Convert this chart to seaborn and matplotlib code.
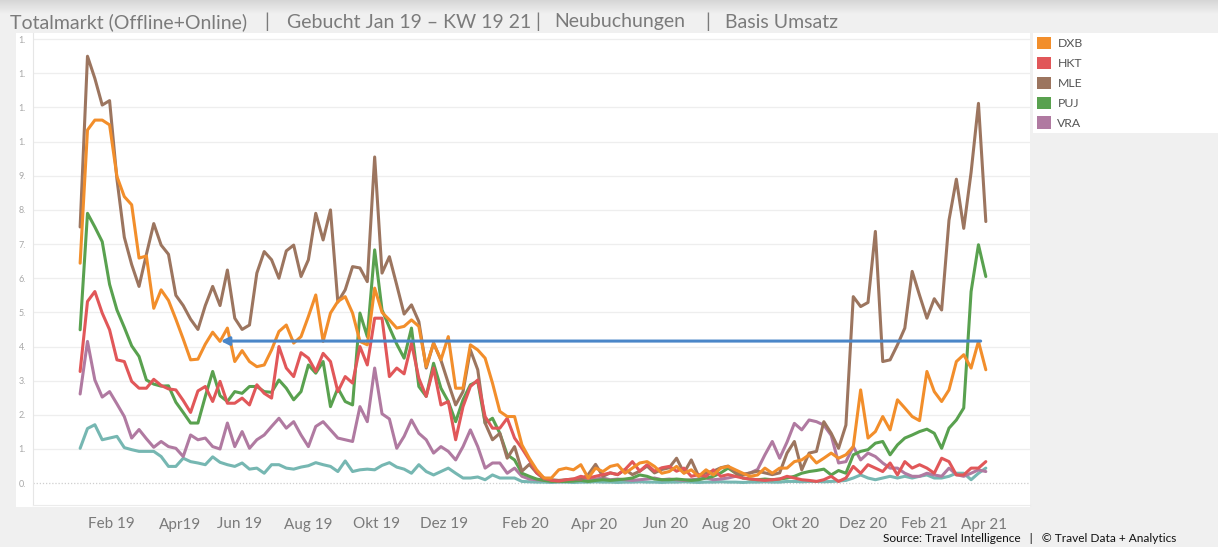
import numpy as np
import pandas as pd
import matplotlib
matplotlib.use('Agg')
import matplotlib.pyplot as plt
from matplotlib.patches import Rectangle, Patch
from matplotlib.colors import LinearSegmentedColormap
import seaborn as sns

# Wochenwerte, Index 0 = KW 1 2019 ... Index 123 = KW 19 2021
dxb = [6.44, 10.34, 10.63, 10.63, 10.49, 8.98, 8.39, 8.15, 6.59, 6.65,
       5.12, 5.66, 5.35, 4.8, 4.22, 3.61, 3.63, 4.07, 4.42, 4.15,
       4.54, 3.56, 3.88, 3.56, 3.41, 3.46, 3.9, 4.44, 4.63, 4.1,
       4.29, 4.88, 5.51, 4.15, 4.98, 5.32, 5.46, 4.98, 4.15, 4.05,
       5.71, 5.0, 4.78, 4.54, 4.59, 4.78, 4.59, 3.41, 4.1, 3.61,
       4.29, 2.78, 2.78, 4.05, 3.9, 3.66, 2.93, 2.1, 1.95, 1.95,
       1.12, 0.73, 0.39, 0.15, 0.15, 0.39, 0.44, 0.39, 0.54, 0.15,
       0.44, 0.34, 0.49, 0.54, 0.29, 0.44, 0.59, 0.63, 0.49, 0.29,
       0.34, 0.49, 0.29, 0.39, 0.2, 0.39, 0.24, 0.44, 0.49, 0.39,
       0.29, 0.2, 0.24, 0.44, 0.29, 0.44, 0.44, 0.63, 0.68, 0.83,
       0.59, 0.73, 0.88, 0.73, 0.83, 1.07, 2.73, 1.32, 1.51, 1.95,
       1.56, 2.44, 2.2, 1.95, 1.83, 3.27, 2.68, 2.39, 2.73, 3.56,
       3.76, 3.37, 4.15, 3.32]

hkt = [3.27, 5.32, 5.61, 4.98, 4.49, 3.61, 3.56, 2.98, 2.78, 2.78,
       3.04, 2.86, 2.76, 2.73, 2.42, 2.07, 2.7, 2.83, 2.39, 2.98,
       2.34, 2.34, 2.49, 2.29, 2.88, 2.63, 2.49, 4.0, 3.37, 3.12,
       3.82, 3.66, 3.27, 3.8, 3.56, 2.68, 3.12, 2.93, 4.0, 3.46,
       4.83, 4.83, 3.12, 3.37, 3.2, 4.1, 3.07, 2.54, 3.37, 2.29,
       2.39, 1.27, 2.24, 2.83, 3.02, 1.95, 1.61, 1.61, 1.9, 1.32,
       1.02, 0.68, 0.3, 0.15, 0.08, 0.06, 0.1, 0.12, 0.2, 0.15,
       0.2, 0.25, 0.3, 0.25, 0.4, 0.63, 0.35, 0.54, 0.35, 0.45,
       0.49, 0.35, 0.44, 0.2, 0.25, 0.2, 0.39, 0.2, 0.25, 0.2,
       0.15, 0.12, 0.1, 0.08, 0.1, 0.12, 0.2, 0.15, 0.1, 0.08,
       0.05, 0.1, 0.2, 0.05, 0.15, 0.49, 0.29, 0.54, 0.44, 0.34,
       0.59, 0.24, 0.63, 0.44, 0.54, 0.44, 0.29, 0.73, 0.63, 0.24,
       0.24, 0.44, 0.44, 0.63]

mle = [7.5, 12.5, 11.85, 11.07, 11.2, 8.9, 7.2, 6.4, 5.76, 6.7,
       7.6, 6.97, 6.7, 5.5, 5.2, 4.8, 4.5, 5.2, 5.76, 5.2,
       6.24, 4.83, 4.5, 4.63, 6.15, 6.78, 6.54, 6.0, 6.8, 6.97,
       6.05, 6.54, 7.9, 7.12, 8.0, 5.3, 5.66, 6.34, 6.3, 5.9,
       9.55, 6.15, 6.63, 5.8, 4.95, 5.22, 4.73, 3.37, 4.1, 3.6,
       2.93, 2.29, 2.68, 3.9, 3.32, 1.76, 1.27, 1.46, 0.73, 1.07,
       0.35, 0.55, 0.3, 0.12, 0.1, 0.08, 0.1, 0.12, 0.1, 0.25,
       0.55, 0.2, 0.3, 0.25, 0.4, 0.25, 0.35, 0.5, 0.3, 0.4,
       0.45, 0.73, 0.3, 0.68, 0.2, 0.3, 0.35, 0.45, 0.5, 0.3,
       0.25, 0.3, 0.35, 0.3, 0.25, 0.3, 0.88, 1.22, 0.39, 0.88,
       0.93, 1.8, 1.46, 1.02, 1.7, 5.46, 5.17, 5.29, 7.37, 3.56,
       3.61, 4.05, 4.54, 6.2, 5.5, 4.83, 5.4, 5.07, 7.7, 8.9,
       7.46, 9.1, 11.12, 7.66]

puj = [4.49, 7.9, 7.5, 7.07, 5.82, 5.07, 4.56, 4.02, 3.71, 3.02,
       2.9, 2.84, 2.85, 2.37, 2.07, 1.76, 1.76, 2.54, 3.27, 2.56,
       2.39, 2.68, 2.63, 2.83, 2.83, 2.68, 2.66, 3.02, 2.78, 2.44,
       2.68, 3.46, 3.22, 3.56, 2.24, 2.78, 2.39, 2.29, 4.98, 4.29,
       6.83, 5.07, 4.56, 4.07, 3.66, 4.54, 2.83, 2.54, 3.51, 2.78,
       2.39, 1.8, 2.44, 2.88, 2.98, 1.76, 1.9, 1.46, 0.83, 0.68,
       0.29, 0.2, 0.12, 0.08, 0.05, 0.05, 0.05, 0.06, 0.08, 0.05,
       0.08, 0.1, 0.08, 0.1, 0.12, 0.15, 0.24, 0.2, 0.12, 0.1,
       0.1, 0.12, 0.1, 0.08, 0.1, 0.15, 0.2, 0.3, 0.44, 0.3,
       0.15, 0.12, 0.1, 0.12, 0.1, 0.12, 0.15, 0.2, 0.29, 0.34,
       0.37, 0.41, 0.24, 0.37, 0.29, 0.83, 0.93, 0.98, 1.17, 1.22,
       0.83, 1.12, 1.32, 1.41, 1.51, 1.58, 1.46, 1.02, 1.61, 1.85,
       2.2, 5.61, 6.98, 6.05]

vra = [2.61, 4.15, 3.02, 2.52, 2.68, 2.32, 1.95, 1.32, 1.57, 1.3,
       1.05, 1.22, 1.07, 1.02, 0.78, 1.41, 1.27, 1.32, 1.07, 1.0,
       1.76, 1.07, 1.51, 1.02, 1.27, 1.41, 1.66, 1.9, 1.61, 1.8,
       1.41, 1.07, 1.66, 1.8, 1.56, 1.32, 1.27, 1.22, 2.24, 1.8,
       3.37, 2.03, 1.88, 1.02, 1.37, 1.85, 1.46, 1.27, 0.88, 1.07,
       0.93, 0.68, 1.07, 1.56, 1.07, 0.44, 0.59, 0.59, 0.29, 0.44,
       0.2, 0.12, 0.1, 0.08, 0.06, 0.05, 0.06, 0.08, 0.1, 0.08,
       0.12, 0.15, 0.1, 0.12, 0.1, 0.08, 0.1, 0.12, 0.15, 0.1,
       0.12, 0.1, 0.08, 0.1, 0.12, 0.15, 0.1, 0.12, 0.15, 0.2,
       0.25, 0.3, 0.4, 0.83, 1.22, 0.73, 1.2, 1.75, 1.56, 1.85,
       1.8, 1.7, 1.4, 0.59, 0.63, 1.07, 0.68, 0.88, 0.78, 0.59,
       0.44, 0.44, 0.29, 0.2, 0.2, 0.29, 0.24, 0.2, 0.44, 0.25,
       0.2, 0.29, 0.39, 0.34]

# sechste Destination, in der Legende abgeschnitten
sonstige = [1.02, 1.6, 1.71, 1.27, 1.32, 1.37, 1.04, 0.98, 0.93, 0.93,
            0.93, 0.78, 0.49, 0.49, 0.73, 0.63, 0.59, 0.54, 0.77, 0.61,
            0.54, 0.49, 0.59, 0.41, 0.44, 0.29, 0.54, 0.54, 0.44, 0.41,
            0.47, 0.51, 0.6, 0.54, 0.49, 0.34, 0.65, 0.34, 0.39, 0.41,
            0.39, 0.52, 0.6, 0.47, 0.41, 0.29, 0.54, 0.34, 0.24, 0.34,
            0.44, 0.29, 0.15, 0.15, 0.18, 0.1, 0.24, 0.15, 0.15, 0.15,
            0.05, 0.04, 0.03, 0.03, 0.02, 0.03, 0.03, 0.02, 0.03, 0.03,
            0.04, 0.03, 0.03, 0.02, 0.03, 0.03, 0.04, 0.03, 0.03, 0.02,
            0.03, 0.03, 0.04, 0.03, 0.02, 0.03, 0.03, 0.04, 0.03, 0.03,
            0.02, 0.03, 0.03, 0.04, 0.03, 0.03, 0.05, 0.05, 0.04, 0.05,
            0.05, 0.04, 0.05, 0.06, 0.08, 0.15, 0.24, 0.15, 0.1, 0.15,
            0.2, 0.15, 0.2, 0.15, 0.2, 0.24, 0.15, 0.15, 0.2, 0.29,
            0.29, 0.1, 0.29, 0.44]

legend_names = ['DXB', 'HKT', 'MLE', 'PUJ', 'VRA']
month_labels = ['Feb 19', 'Apr19', 'Jun 19', 'Aug 19', 'Okt 19', 'Dez 19', 'Feb 20',
                'Apr 20', 'Jun 20', 'Aug 20', 'Okt 20', 'Dez 20', 'Feb 21', 'Apr 21']
month_ticks = [4.2, 13.6, 21.7, 31.0, 40.2, 49.4, 60.5, 69.8, 79.5, 87.8, 97.1, 106.3, 114.7, 122.7]
y_labels = ['0.', '1.', '2.', '3.', '4.', '5.', '6.', '7.', '8.', '9.', '1.', '1.', '1.', '1.']

# Referenzlinie (Pfeil) auf Niveau Jun 19
ref_level = 4.16
ref_from = 122.3
ref_to = 19.1

colors = {'DXB': '#f28e2b', 'HKT': '#e15759', 'MLE': '#9c755f',
          'PUJ': '#59a14f', 'VRA': '#b07aa1', 'Sonstige': '#76b7b2'}

frames = []
for name, vals in [('Sonstige', sonstige), ('VRA', vra), ('PUJ', puj),
                   ('MLE', mle), ('HKT', hkt), ('DXB', dxb)]:
    frames.append(pd.DataFrame({'woche': np.arange(len(vals)), 'wert': vals, 'ziel': name}))
df = pd.concat(frames, ignore_index=True)

sns.set_style('white')
plt.rcParams['font.family'] = ['Lato', 'DejaVu Sans']

W, H = 1218, 547
fig = plt.figure(figsize=(W / 100, H / 100), dpi=100, facecolor='#f0f0f0')

# grauer Verlauf am oberen Rand
ax_top = fig.add_axes([0, 1 - 14 / H, 1, 14 / H])
grad = np.linspace(0, 1, 40).reshape(-1, 1)
ax_top.imshow(grad, aspect='auto', cmap=LinearSegmentedColormap.from_list('g', ['#d6d6d6', '#f0f0f0']))
ax_top.axis('off')

# weisse Flaechen fuer Diagramm und Legende
fig.patches.append(Rectangle((16 / W, 1 - 507 / H), (1030 - 16) / W, (507 - 33) / H,
                             transform=fig.transFigure, facecolor='white', edgecolor='none', zorder=-5))
fig.patches.append(Rectangle((1033 / W, 1 - 133 / H), (W - 1033) / W, 100 / H,
                             transform=fig.transFigure, facecolor='white', edgecolor='none', zorder=-5))

ax = fig.add_axes([33 / W, 1 - 505 / H, (1030 - 33) / W, (505 - 33) / H])
ax.set_facecolor('white')

sns.lineplot(data=df, x='woche', y='wert', hue='ziel', palette=colors,
             hue_order=['Sonstige', 'VRA', 'PUJ', 'MLE', 'HKT', 'DXB'],
             linewidth=2.2, legend=False, ax=ax)

ax.annotate('', xy=(ref_to, ref_level), xytext=(ref_from, ref_level),
            arrowprops=dict(arrowstyle='-|>', color='#4a86c8', lw=2.2,
                            mutation_scale=12, shrinkA=0, shrinkB=0), zorder=10)

ax.set_xlim(-6.4, 129.0)
ax.set_ylim(-0.64, 13.18)
ax.set_yticks(range(14))
ax.set_yticklabels(y_labels)
ax.set_xticks(month_ticks)
ax.set_xticklabels(month_labels)
ax.set_xlabel('')
ax.set_ylabel('')

ax.yaxis.grid(True, color='#eeeeee', lw=0.9)
ax.xaxis.grid(False)
ax.set_axisbelow(True)
ax.get_ygridlines()[0].set_linestyle((0, (1, 1.5)))
ax.get_ygridlines()[0].set_color('#cfcfcf')

ax.tick_params(axis='y', length=0, pad=5, labelsize=6.5, labelcolor='#a8a8a8')
ax.tick_params(axis='x', length=0, pad=9, labelsize=11, labelcolor='#7a7a7a')
for s in ['top', 'right']:
    ax.spines[s].set_visible(False)
ax.spines['left'].set_color('#e6e6e6')
ax.spines['bottom'].set_color('#ececec')

# Titelzeile
title_parts = [(10, 'Totalmarkt (Offline+Online)'), (264, '|'), (287, 'Gebucht Jan 19 \u2013 KW 19 21'),
               (535, '|'), (554, 'Neubuchungen'), (705, '|'), (725, 'Basis Umsatz')]
for px, txt in title_parts:
    fig.text(px / W, 1 - 22 / H, txt, ha='left', va='center', fontsize=14, color='#7b7b7b')

# Legende
handles = [Patch(facecolor=colors[n], edgecolor='none', label=n) for n in legend_names]
fig.legend(handles=handles, loc='upper left', bbox_to_anchor=(1033 / W, 1 - 33 / H),
           frameon=False, fontsize=8.8, handlelength=1.15, handleheight=1.15,
           labelspacing=0.62, handletextpad=0.5, borderaxespad=0, borderpad=0.35,
           labelcolor='#555555')

fig.text(1176 / W, 1 - 539 / H, 'Source: Travel Intelligence   |   \u00a9 Travel Data + Analytics',
         ha='right', va='center', fontsize=8.6, color='#111111')

fig.savefig('out.png', dpi=100, facecolor=fig.get_facecolor())
